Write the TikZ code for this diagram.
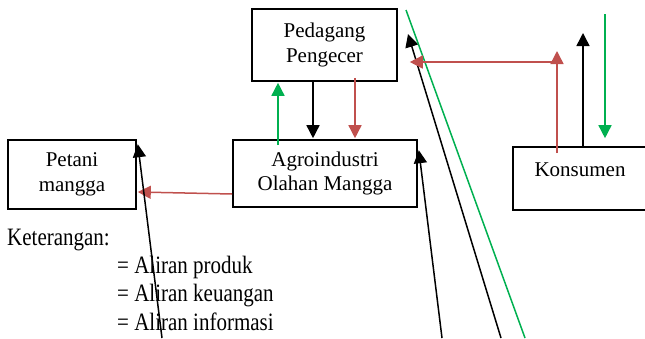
\documentclass[tikz,border=0pt]{standalone}
\usepackage{fontspec}
\setmainfont{Liberation Serif}
\newfontfamily\legendfont{Liberation Serif}[FakeStretch=0.84]
\usetikzlibrary{arrows.meta, positioning, calc}
\definecolor{AliranHijau}{RGB}{0,176,80}
\definecolor{AliranMerah}{RGB}{192,80,77}

\begin{document}
\begin{tikzpicture}[
    x=1pt, y=-1pt,
    box/.style={rectangle, draw=black, line width=1.6pt, align=center,
                inner sep=0pt, font=\fontsize{21}{24.5}\selectfont},
    teks/.style={anchor=base west, inner sep=0pt, font=\legendfont\fontsize{25}{28}\selectfont},
    arrow/.style={-{Triangle[length=13pt, width=13pt]}, line width=1.5pt},
    produk/.style={arrow, black},
    uang/.style={arrow, AliranHijau},
    info/.style={arrow, AliranMerah}
]
\useasboundingbox (0,0) rectangle (645,338);

% Boxes
\node[box, minimum width=145pt, minimum height=72pt] (pedagang) at (324.5,45) {Pedagang\\Pengecer};
\node[box, minimum width=184pt, minimum height=67pt] (agro) at (325,173.5) {Agroindustri\\Olahan Mangga};
\node[box, minimum width=128pt, minimum height=69pt] (petani) at (72,174.5) {Petani\\mangga};
\node[box, minimum width=134pt, minimum height=63pt, text depth=17pt] (konsumen) at (580,178.5) {Konsumen};

% Legend
\node[teks] (keterangan) at (7,245) {Keterangan:};
\node[teks] (produk) at (117,273) {= Aliran produk};
\node[teks] (keuangan) at (117,301.5) {= Aliran keuangan};
\node[teks] (informasi) at (117,330) {= Aliran informasi};

% Free ends
\coordinate (bawahA) at (162,338);
\coordinate (bawahB) at (442,338);
\coordinate (bawahC) at (501,338);
\coordinate (bawahD) at (525,338);
\coordinate (atasC) at (408,34);
\coordinate (atasD) at (406,10);
\coordinate (atasK) at (583,33);
\coordinate (sudut) at (557,62);
\coordinate (atasH) at (605,14);

% Arrows between boxes
\draw[uang] ([xshift=-47pt, yshift=-6pt]agro.north) -- ([xshift=-46.5pt, yshift=-1pt]pedagang.south);
\draw[produk] ([xshift=-11.5pt]pedagang.south) -- ([xshift=-12pt, yshift=1pt]agro.north);
\draw[info] ([xshift=30.5pt, yshift=4pt]pedagang.south) -- ([xshift=30pt, yshift=1pt]agro.north);
\draw[info] ([yshift=-20.5pt]agro.west) -- ([xshift=1pt, yshift=-17.5pt]petani.east);

% Long lines
\draw[produk] (bawahA) -- ([xshift=1pt, yshift=-5pt]petani.north east);
\draw[produk] (bawahB) -- ([xshift=1pt, yshift=-11pt]agro.north east);
\draw[produk] (bawahC) -- (atasC);
\draw[AliranHijau, line width=1.5pt] (bawahD) -- (atasD);

% Konsumen side
\draw[info] ([xshift=-23pt, yshift=-7pt]konsumen.north) -- ([yshift=11pt]sudut);
\draw[info] (sudut) -- ([xshift=12pt, yshift=-17pt]pedagang.east);
\draw[produk] ([xshift=3pt]konsumen.north) -- (atasK);
\draw[uang] (atasH) -- ([xshift=25pt, yshift=8pt]konsumen.north);

\end{tikzpicture}
\end{document}
